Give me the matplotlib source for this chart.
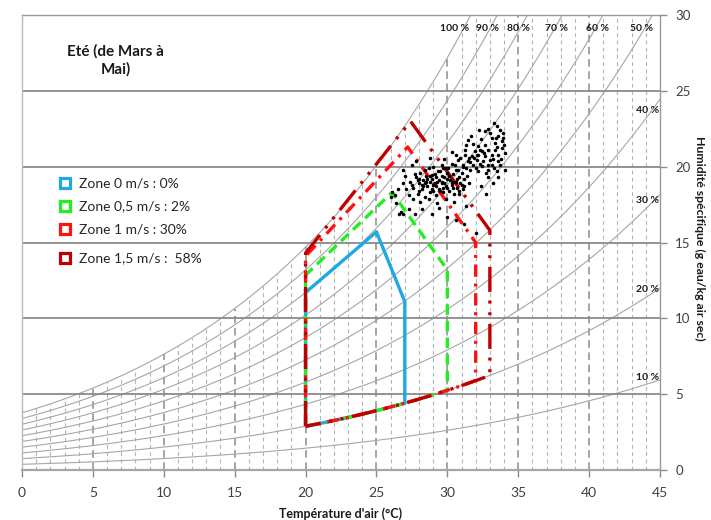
import numpy as np
import matplotlib
matplotlib.use("Agg")
import matplotlib.pyplot as plt

plt.rcParams['font.family'] = ['Lato', 'DejaVu Sans']

# ---------------------------------------------------------------- data
P_ATM = 101.325  # kPa

rh_levels = [0.1, 0.2, 0.3, 0.4, 0.5, 0.6, 0.7, 0.8, 0.9, 1.0]
rh_top_labels = ["100 %", "90 %", "80 %", "70 %", "60 %", "50 %"]
rh_right_labels = ["40 %", "30 %", "20 %", "10 %"]

x_ticks = [0, 5, 10, 15, 20, 25, 30, 35, 40, 45]
y_ticks = [0, 5, 10, 15, 20, 25, 30]

zone_names = ["Zone 0 m/s : 0%", "Zone 0,5 m/s : 2%",
              "Zone 1 m/s : 30%", "Zone 1,5 m/s :  58%"]
zone_colors = ["#1FA8E2", "#22EE22", "#FF1111", "#C00000"]

# Upper outline of each comfort zone (temperature °C, humidity g/kg);
# the lower edge follows the 20 % relative humidity curve.
zone0_T = [20.0, 20.0, 25.0, 27.0, 27.0]
zone0_W = [2.9, 11.7, 15.7, 11.1, 4.4]
zone05_T = [20.0, 20.0, 26.1, 30.0, 30.0]
zone05_W = [2.9, 12.85, 18.3, 13.2, 5.3]
zone1_T = [20.0, 20.0, 27.2, 32.0, 32.0]
zone1_W = [2.9, 14.1, 21.3, 15.0, 5.9]
zone15_T = [20.0, 20.0, 27.4, 33.0, 33.0]
zone15_W = [2.9, 14.3, 23.0, 15.8, 6.2]
zone_rh_min = 0.20

# Hourly measurements (temperature °C, humidity g/kg)
meas_T = [32.65, 33.50, 31.45, 33.15, 33.57, 33.92, 32.16, 32.65, 33.36, 33.85,
          31.24, 31.95, 32.44, 32.86, 33.36, 33.85, 31.24, 31.73, 32.16, 32.65,
          33.15, 33.57, 34.06, 30.75, 31.45, 32.09, 32.51, 33.00, 33.57, 30.54,
          31.10, 31.81, 32.44, 33.15, 33.71, 30.04, 30.75, 31.59, 32.16, 32.86,
          33.50, 34.05,
          27.4, 27.6, 27.8, 27.9, 28.0, 28.1, 28.2, 28.3, 28.4, 28.5,
          28.6, 28.7, 28.8, 28.9, 29.0, 29.1, 29.2, 29.3, 29.4, 29.5,
          29.6, 29.7, 29.8, 29.9, 30.0, 30.1, 30.2, 30.3, 30.4, 30.5,
          30.6, 30.7, 30.8, 30.9, 31.0, 31.1, 31.2,
          27.7, 28.0, 28.3, 28.6, 28.9, 29.2, 29.5, 29.8, 30.1, 30.4,
          30.7, 31.0, 31.3, 29.0, 29.6, 30.3, 28.4, 29.9, 30.6,
          27.1, 27.3, 26.9, 27.0, 28.1, 28.7, 29.3, 29.9, 30.5, 27.6,
          30.8, 31.2, 31.4, 31.5,
          26.1, 26.3, 26.5, 26.0, 26.4, 26.6, 26.7, 26.9, 27.3, 27.7,
          28.2, 28.9, 29.4, 30.0, 30.6, 31.2, 32.0, 31.3, 32.4, 32.7,
          33.2, 33.6, 32.9, 26.9, 27.5, 28.8, 29.8, 30.3, 31.3, 31.7,
          32.2, 32.9, 33.3, 27.8,
          29.34, 29.69, 28.91,
          31.6, 31.9, 32.3, 32.6, 32.9, 33.2, 33.5, 33.8, 32.0, 32.7,
          33.3, 33.9, 32.4, 33.0, 31.8, 32.3, 31.5, 30.9, 31.1, 30.6,
          33.7, 34.0, 33.4, 32.1,
          27.5, 27.9, 28.2, 28.5, 28.8, 29.1, 29.4, 29.7, 30.0, 30.3,
          28.0, 28.4, 28.8, 29.2, 29.6, 30.0, 30.4, 30.8, 29.0, 29.6]
meas_W = [22.35, 22.68, 21.76, 21.89, 22.02, 22.22, 21.36, 21.43, 21.56, 21.69,
          21.10, 21.04, 21.04, 21.10, 21.10, 21.23, 20.77, 20.70, 20.77, 20.70,
          20.77, 20.77, 20.90, 20.44, 20.37, 20.44, 20.37, 20.44, 20.37, 20.11,
          20.11, 20.11, 20.04, 20.11, 20.11, 19.91, 19.78, 19.78, 19.71, 19.78,
          19.71, 19.78,
          19.0, 18.6, 19.3, 18.2, 18.9, 19.6, 18.5, 19.1, 18.0, 19.4,
          18.7, 19.9, 18.3, 19.2, 18.8, 19.5, 18.1, 19.0, 18.5, 19.7,
          18.9, 18.3, 19.3, 18.7, 19.6, 18.4, 19.1, 18.8, 19.5, 18.2,
          19.0, 18.6, 19.3, 18.9, 19.6, 18.5, 19.2,
          19.5, 18.4, 18.7, 19.2, 18.5, 19.3, 18.4, 18.9, 19.4, 18.6,
          19.2, 18.8, 19.9, 20.0, 20.1, 20.2, 19.8, 19.9, 19.8,
          18.5, 18.1, 18.9, 19.4, 17.7, 17.9, 17.6, 17.9, 17.7, 17.9,
          18.2, 18.7, 19.4, 18.9,
          18.3, 18.1, 18.5, 18.0, 17.6, 16.9, 17.0, 16.9, 17.2, 16.9,
          17.2, 16.9, 17.3, 16.7, 16.5, 16.2, 15.6, 17.4, 18.7, 18.2,
          18.9, 19.3, 19.3, 19.8, 20.1, 20.6, 20.5, 21.0, 21.4, 22.0,
          22.4, 22.5, 22.9, 20.4,
          19.71, 19.91, 19.45,
          20.3, 20.6, 20.2, 20.9, 20.1, 20.5, 21.3, 20.5, 19.9, 19.6,
          19.9, 21.9, 21.8, 22.2, 21.5, 21.1, 20.6, 20.6, 20.0, 20.8,
          22.4, 21.4, 21.9, 20.8,
          18.8, 19.1, 18.8, 19.0, 19.4, 18.9, 19.1, 18.6, 19.2, 18.9,
          19.2, 18.9, 19.0, 18.7, 19.0, 18.6, 19.0, 18.4, 18.4, 19.4]


def humidity_ratio(t, rh):
    """Specific humidity in g water / kg dry air."""
    ps = 0.61078 * np.exp(17.27 * t / (t + 237.3))
    pw = rh * ps
    return 622.0 * pw / (P_ATM - pw)


# ---------------------------------------------------------------- figure
fig = plt.figure(figsize=(7.11, 5.20), dpi=100)
ax = fig.add_axes([22 / 711, 1 - 470 / 520, (660 - 22) / 711, (470 - 15) / 520])
ax.set_xlim(0, 45)
ax.set_ylim(0, 30)

# dry-bulb lines up to saturation
for t in range(1, 45):
    top = min(humidity_ratio(t, 1.0), 30)
    major = (t % 5 == 0)
    ln, = ax.plot([t, t], [0, top],
                  color="#8c8c8c" if major else "#b4b4b4",
                  lw=1.1 if major else 0.8, zorder=1)
    ln.set_dashes((5, 3) if major else (3.5, 3))

# specific humidity gridlines
for w in y_ticks[1:-1]:
    ax.axhline(w, color="#8a8a8a", lw=1.3, zorder=1.5)

# relative humidity curves
tt = np.linspace(0, 45, 400)
for rh in rh_levels:
    ax.plot(tt, humidity_ratio(tt, rh), color="#a6a6a6", lw=0.8, zorder=1.2)

top_label_x = [30.5, 32.8, 35.0, 37.7, 40.6, 43.7]
for lab, x in zip(rh_top_labels, top_label_x):
    ax.text(x, 29.1, lab, fontsize=7.5, fontweight="bold", color="#1a1a1a",
            ha="center", va="center", zorder=3)
right_label_y = [23.7, 17.8, 11.9, 6.1]
for lab, y in zip(rh_right_labels, right_label_y):
    ax.text(44.1, y, lab, fontsize=7.5, fontweight="bold", color="#1a1a1a",
            ha="center", va="center", zorder=3)

# comfort zones
zone_T = [zone0_T, zone05_T, zone1_T, zone15_T]
zone_W = [zone0_W, zone05_W, zone1_W, zone15_W]
zone_dashes = [None, (3.2, 1.8), (3.7, 2.0, 0.9, 2.0),
               (7.5, 2.6, 0.9, 2.6, 0.9, 2.6)]
for T, W, c, d in zip(zone_T, zone_W, zone_colors, zone_dashes):
    tb = np.linspace(T[-1], T[0], 40)
    xs = list(T) + list(tb[1:])
    ys = list(W) + list(humidity_ratio(tb[1:], zone_rh_min))
    ln, = ax.plot(xs, ys, color=c, lw=2.4, zorder=4,
                  solid_capstyle="butt", dash_capstyle="butt")
    if d is not None:
        ln.set_dashes(d)

# measurements
ax.scatter(meas_T, meas_W, s=6.5, color="black", linewidths=0, zorder=5)

# zone key
key_y = [18.92, 17.41, 15.89, 13.98]
for name, c, y in zip(zone_names, zone_colors, key_y):
    ax.plot([3.03], [y], marker="s", ms=7, mfc="white", mec=c, mew=2.3,
            zorder=6, clip_on=False)
    ax.text(4.05, y, name, fontsize=10, color="#262626", va="center", zorder=6)

# title
ax.text(6.6, 27.0, "Eté (de Mars à\nMai)", fontsize=11, fontweight="bold",
        color="#1a1a1a", ha="center", va="center", linespacing=1.25)

# axes styling
ax.yaxis.tick_right()
ax.set_xticks(x_ticks)
ax.set_yticks(y_ticks)
ax.tick_params(axis="both", direction="out", length=5, width=1,
               color="#8c8c8c", labelsize=10, labelcolor="#404040")
ax.tick_params(axis="x", pad=7)
ax.tick_params(axis="y", pad=6, labelsize=9.5)
for side in ["left", "right", "top"]:
    ax.spines[side].set_color("#9a9a9a")
    ax.spines[side].set_linewidth(1.0)
ax.spines["bottom"].set_color("#a6a6a6")
ax.spines["bottom"].set_linewidth(1.6)
ax.spines["left"].set_color("#b8b8b8")

ax.set_xlabel("Température d'air (°C)", fontsize=9, fontweight="bold",
              color="#1a1a1a", labelpad=6)
fig.text(700 / 711, 1 - 238 / 520, "Humidité spécifique (g eau/kg air sec)",
         fontsize=8.8, fontweight="bold", color="#1a1a1a", rotation=270,
         ha="center", va="center")

fig.savefig("out.png", dpi=100)
